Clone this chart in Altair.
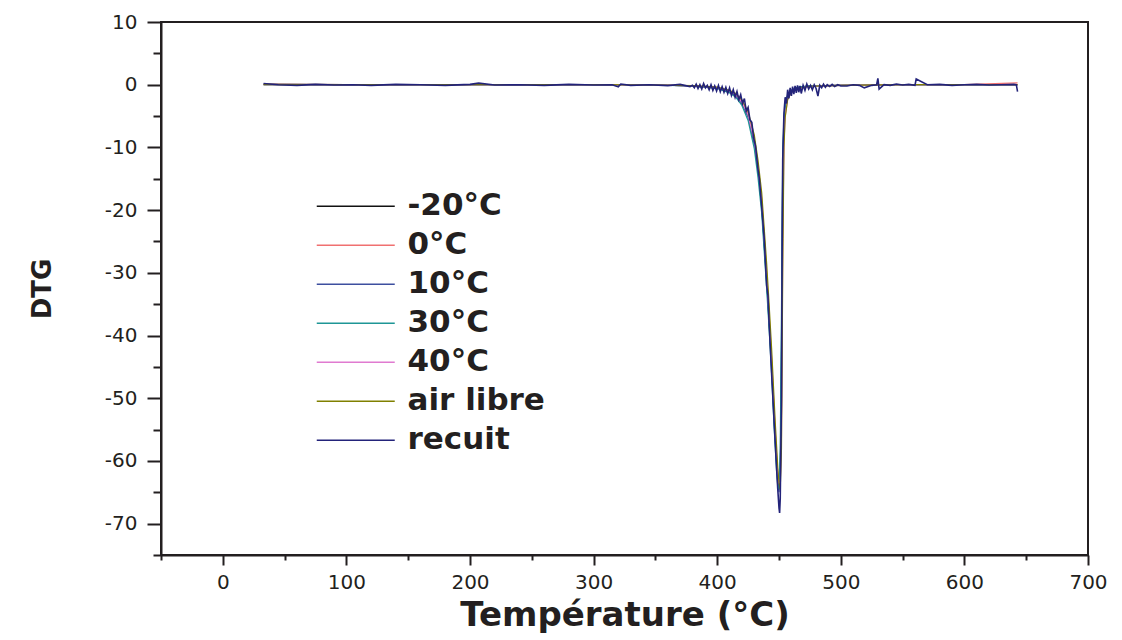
import altair as alt
import pandas as pd

# ---------------- data ----------------
series_names = ["-20°C", "0°C", "10°C", "30°C", "40°C", "air libre", "recuit"]
series_colors = ["#111111", "#f07070", "#3d4f9f", "#1e9696", "#e07ad0", "#808000", "#23237a"]

# shared temperature grid for the six smooth curves
T_grid = [33, 100, 200, 300, 350, 380, 400, 410, 415, 420, 425, 430, 433, 436, 438, 440,
          442, 444, 446, 447, 448, 449, 450, 451, 452, 453, 454, 455, 457, 460, 465, 475,
          500, 550, 600, 643]

y_m20 = [0.1, 0, 0, 0, -0.05, -0.2, -0.5, -1.1, -1.7, -2.9, -5.0, -9.2, -13.5, -19.0, -25.0, -31.0,
         -37.5, -44.5, -53.0, -56.5, -60.0, -62.5, -64.5, -63.0, -45.0, -14.0, -6.0, -3.8, -1.8, -1.0, -0.5, -0.2,
         -0.1, 0, 0, 0]
y_0 = [0.05, 0, 0, 0, -0.05, -0.2, -0.45, -1.0, -1.6, -2.7, -4.7, -8.7, -12.8, -18.2, -24.0, -30.0,
       -36.5, -43.5, -51.5, -55.5, -59.0, -62.0, -64.0, -64.2, -52.0, -20.0, -7.5, -4.3, -2.0, -1.1, -0.5, -0.2,
       -0.1, 0, 0, 0.3]
y_10 = [0.0, 0, 0, 0, -0.05, -0.2, -0.5, -1.1, -1.8, -3.0, -5.2, -9.5, -13.8, -19.5, -25.5, -31.5,
        -38.0, -45.0, -53.5, -57.0, -60.5, -63.5, -65.0, -62.0, -42.0, -13.0, -5.8, -3.6, -1.7, -0.9, -0.4, -0.2,
        -0.1, 0, 0, 0]
y_30 = [0.0, 0, 0, 0, -0.05, -0.25, -0.6, -1.3, -2.0, -3.3, -5.7, -10.2, -14.8, -20.5, -26.5, -32.5,
        -39.0, -46.0, -54.5, -58.0, -61.5, -64.0, -64.5, -58.0, -36.0, -11.0, -5.2, -3.3, -1.6, -0.9, -0.4, -0.2,
        -0.1, 0, 0, 0]
y_40 = [0.0, 0, 0, 0, -0.05, -0.2, -0.45, -1.0, -1.6, -2.8, -4.8, -8.9, -13.0, -18.5, -24.5, -30.5,
        -37.0, -44.0, -52.0, -55.5, -59.0, -62.0, -63.5, -63.8, -56.0, -26.0, -9.5, -5.0, -2.3, -1.2, -0.6, -0.25,
        -0.1, 0, 0, 0]
y_air = [0.0, 0, 0, 0, -0.05, -0.15, -0.4, -0.9, -1.4, -2.4, -4.3, -8.0, -12.0, -17.2, -22.8, -28.5,
         -35.0, -42.0, -50.0, -54.0, -57.5, -61.0, -63.5, -64.5, -58.0, -30.0, -10.0, -5.2, -2.4, -1.2, -0.6, -0.25,
         -0.1, 0, 0, 0]

# noisy "recuit" curve on its own grid
T_recuit = [33, 45, 60, 75, 90, 105, 120, 140, 160, 180, 200, 207, 220, 240, 260, 280, 300, 315, 320, 322,
            330, 345, 360, 370, 378,
            380, 381.5, 383, 384.5, 386, 387.5, 389, 390.5, 392, 393.5, 395, 396.5, 398, 399.5, 401, 402.5,
            404, 405.5, 407, 408.5, 410, 411.5, 413, 414.5, 416, 417.5, 419, 420.5, 422, 423.5, 425, 426.5,
            428, 429.5, 431,
            433, 434, 436, 438, 440, 441, 442, 444, 446, 448, 449, 450, 450.5, 451, 452, 452.5, 453, 454,
            455, 456, 457, 458, 459, 460, 461, 462, 463, 464, 465, 466, 467, 468, 469.5, 471, 472.5, 474,
            475.5, 477, 478.5, 480, 481.5, 483, 484.5, 486, 487.5, 489, 491, 493, 495, 497.5, 500,
            505, 510, 515, 519, 525, 529, 530, 531, 535, 540, 545, 550, 555, 560, 561,
            570, 580, 590, 600, 610, 620, 630, 640, 642, 643]
y_recuit = [0.2, 0.0, -0.1, 0.05, -0.05, 0.0, -0.1, 0.05, 0.0, -0.1, 0.05, 0.25, -0.05, 0.0, -0.1, 0.05, -0.05, 0.0, -0.35, 0.1,
            -0.1, 0.0, -0.15, 0.05, -0.3,
            -0.1, -0.5, 0.1, -0.6, 0.0, -0.7, 0.2, -0.5, -0.1, -0.8, 0.0, -0.9, -0.2, -1.0, -0.1, -1.1,
            -0.3, -1.2, -0.4, -1.4, -0.5, -1.7, -0.8, -2.0, -1.1, -2.4, -1.6, -3.0, -2.2, -4.2, -3.6, -5.6,
            -6.0, -8.5, -9.8,
            -13.5, -14.8, -19.5, -24.5, -32.0, -33.5, -38.0, -46.0, -53.5, -61.0, -64.5, -67.5, -68.3, -66.0, -50.0, -28.0, -12.0, -4.5,
            -2.0, -3.0, -0.8, -2.2, -0.5, -1.8, -0.3, -1.5, -0.2, -1.3, -0.1, -1.2, -0.2, -1.4, -0.1, -0.9, 0.1, -0.7,
            -0.1, -0.8, 0.0, -0.6, -1.8, -0.1, -0.5, 0.1, -0.4, 0.0, -0.3, 0.05, -0.3, 0.0, -0.2,
            -0.2, 0.0, -0.1, -0.5, -0.1, 0.0, 1.0, -0.7, 0.0, -0.1, 0.1, -0.05, 0.05, -0.1, 0.9,
            0.0, 0.05, -0.1, 0.0, 0.05, -0.05, 0.0, 0.05, 0.0, -1.1]

x_major = [0, 100, 200, 300, 400, 500, 600, 700]
x_minor = [-50, 50, 150, 250, 350, 450, 550, 650]
y_major = [-70, -60, -50, -40, -30, -20, -10, 0, 10]
y_minor = [-75, -65, -55, -45, -35, -25, -15, -5, 5]

rows = []
for name, ys in zip(series_names[:6], [y_m20, y_0, y_10, y_30, y_40, y_air]):
    for t, v in zip(T_grid, ys):
        rows.append({"T": t, "v": v, "s": name})
for t, v in zip(T_recuit, y_recuit):
    rows.append({"T": t, "v": v, "s": "recuit"})
df = pd.DataFrame(rows)

# ---------------- chart ----------------
ink = "#231f20"
FONT = "DejaVu Sans"
xscale = alt.Scale(domain=[-50, 700], nice=False, zero=False)
yscale = alt.Scale(domain=[-75, 10], nice=False, zero=False)

lines = alt.Chart(df).mark_line(clip=True).encode(
    x=alt.X("T:Q", scale=xscale,
            axis=alt.Axis(orient="bottom", values=x_major, title="Température (°C)",
                          tickSize=10, tickWidth=2, tickColor=ink, domainColor=ink, domainWidth=2,
                          labelFont=FONT, labelFontSize=20, labelColor=ink, labelPadding=7,
                          labelFlush=False, labelOverlap=False, grid=False,
                          titleFont=FONT, titleFontSize=34, titleFontWeight="bold", titleColor=ink,
                          titleBaseline="alphabetic", titleY=70)),
    y=alt.Y("v:Q", scale=yscale,
            axis=alt.Axis(orient="left", values=y_major, title="DTG",
                          labelExpr="'' + datum.value",
                          tickSize=14, tickWidth=2, tickColor=ink, domainColor=ink, domainWidth=2,
                          labelFont=FONT, labelFontSize=20, labelColor=ink, labelPadding=10,
                          labelFlush=False, labelOverlap=False, grid=False,
                          titleFont=FONT, titleFontSize=26, titleFontWeight="bold", titleColor=ink,
                          titleAngle=270, titleBaseline="alphabetic", titleAlign="center",
                          titleX=-111, titleY=266.5)),
    color=alt.Color("s:N", scale=alt.Scale(domain=series_names, range=series_colors),
                    legend=alt.Legend(title=None, orient="none", legendX=150, legendY=165,
                                      symbolType="M-1,0H7", symbolSize=380.25, symbolStrokeWidth=1.5,
                                      labelOffset=65.5, labelFont=FONT, labelFontSize=31,
                                      labelFontWeight="bold", labelColor=ink, labelLimit=400,
                                      clipHeight=38.5, rowPadding=0, padding=0)),
    strokeWidth=alt.condition(alt.datum.s == "recuit", alt.value(1.6), alt.value(1.2)),
)

minor = alt.Chart(pd.DataFrame({"T": [0], "v": [0]})).mark_point(opacity=0).encode(
    x=alt.X("T:Q", scale=xscale,
            axis=alt.Axis(orient="bottom", values=x_minor, labels=False, title=None, domain=False,
                          tickSize=5, tickWidth=2, tickColor=ink, grid=False)),
    y=alt.Y("v:Q", scale=yscale,
            axis=alt.Axis(orient="left", values=y_minor, labels=False, title=None, domain=False,
                          tickSize=8, tickWidth=2, tickColor=ink, grid=False)),
)

chart = alt.layer(lines, minor).resolve_axis(x="independent", y="independent").properties(
    width=927, height=533,
    padding={"left": 153, "top": 14, "right": 20, "bottom": 80},
    autosize=alt.AutoSizeParams(type="none"),
).configure_view(stroke=ink, strokeWidth=2)

chart.save("out.html", embed_options={"renderer": "svg", "actions": False})
